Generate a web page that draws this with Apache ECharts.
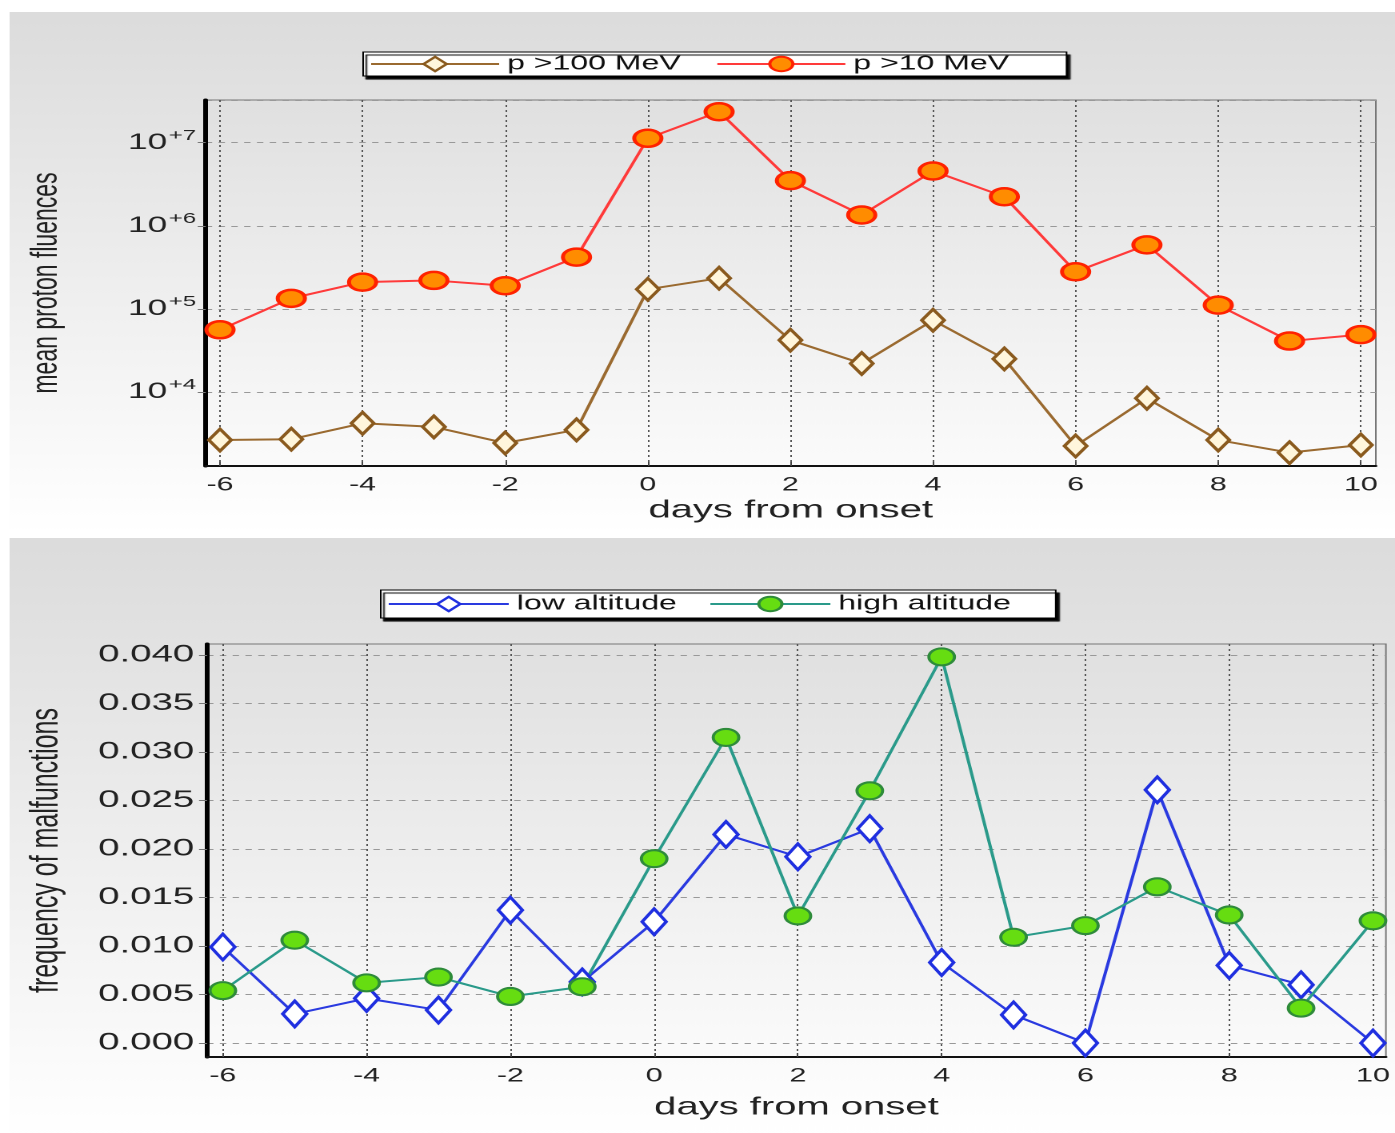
<!DOCTYPE html>
<html><head><meta charset="utf-8">
<script src="https://cdn.jsdelivr.net/npm/echarts@6/dist/echarts.min.js"></script>
<style>
html,body{margin:0;padding:0;background:#fff;overflow:hidden;}
#wrap{width:1395px;height:1133px;overflow:hidden;position:relative;}
#c{width:872px;height:1133px;transform:scaleX(1.59977);transform-origin:0 0;}
</style></head><body><div id="wrap"><div id="c"></div></div>
<script>
// ---- data ----
const days = [-6,-5,-4,-3,-2,-1,0,1,2,3,4,5,6,7,8,9,10];
const p100 = [2640,2700,4200,3800,2430,3500,172000,234000,42000,22000,73000,25000,2240,8400,2640,1860,2300];
const p10 = [56000,134000,210000,220000,190000,420000,11300000,23600000,3500000,1350000,4560000,2240000,280000,590000,111000,41000,49000];
const lowAlt = [0.0099,0.0030,0.0046,0.0034,0.0137,0.0063,0.0125,0.0215,0.0192,0.0221,0.0083,0.0029,0.0000,0.0261,0.0080,0.0060,0.0000];
const highAlt = [0.0054,0.0106,0.0062,0.0068,0.0048,0.0058,0.0190,0.0315,0.0131,0.0260,0.0398,0.0109,0.0121,0.0161,0.0132,0.0036,0.0126];
const xTicks = [-6,-4,-2,0,2,4,6,8,10];
const freqTicks = [0,0.005,0.010,0.015,0.020,0.025,0.030,0.035,0.040];
const topNames = ['p >100 MeV','p >10 MeV'];
const botNames = ['low altitude','high altitude'];

const FONT = 'Liberation Sans';
const pairs = (ys) => days.map((d,i)=>[d, ys[i]]);
const chart = echarts.init(document.getElementById('c'), null, {devicePixelRatio: 2});

const panelGrad = () => new echarts.graphic.LinearGradient(0,0,0,1,[{offset:0,color:'#dcdcdc'},{offset:1,color:'#ffffff'}]);
const plotGrad = () => new echarts.graphic.LinearGradient(0,0,0,1,[{offset:0,color:'#e0e0e0'},{offset:1,color:'#fbfbfb'}]);

function xAxisCfg(gi, min, max, nameGap){
  return {
    type:'value', gridIndex:gi, min:min, max:max,
    name:'days from onset', nameLocation:'middle', nameGap:nameGap,
    nameTextStyle:{fontFamily:FONT, fontSize:25, color:'#222'},
    axisLine:{show:true, onZero:false, lineStyle:{color:'#111', width:2}},
    axisTick:{show:true, inside:true, length:4, customValues:xTicks, lineStyle:{color:'#444'}},
    axisLabel:{customValues:xTicks, fontFamily:FONT, fontSize:19, color:'#222', margin:10},
    splitLine:{show:true, lineStyle:{type:[2,3], color:'#555', width:1}}
  };
}

const option = {
  animation:false,
  backgroundColor:'#ffffff',
  graphic:[
    {type:'rect', shape:{x:6, y:12, width:866, height:518}, style:{fill:panelGrad()}, z:-10, silent:true},
    {type:'rect', shape:{x:6, y:538, width:866, height:595}, style:{fill:panelGrad()}, z:-10, silent:true}
  ],
  grid:[
    {left:128.6, right:12, top:100, height:366, show:true, backgroundColor:plotGrad(), borderColor:'#777', borderWidth:1},
    {left:129.4, right:5.7, top:644, height:413, show:true, backgroundColor:plotGrad(), borderColor:'#777', borderWidth:1}
  ],
  legend:[
    {data:topNames, left:227, top:52, orient:'horizontal', itemWidth:80, itemHeight:18, itemGap:22,
     padding:[2,36,2,4], backgroundColor:'#fff', borderColor:'#000', borderWidth:1,
     shadowColor:'#000', shadowBlur:1, shadowOffsetX:2, shadowOffsetY:3,
     textStyle:{fontFamily:FONT, fontSize:20, color:'#111'}},
    {data:botNames, left:238, top:590, orient:'horizontal', itemWidth:75, itemHeight:18, itemGap:20,
     padding:[4,28,4,4], backgroundColor:'#fff', borderColor:'#000', borderWidth:1,
     shadowColor:'#000', shadowBlur:1, shadowOffsetX:2, shadowOffsetY:3,
     textStyle:{fontFamily:FONT, fontSize:20, color:'#111'}}
  ],
  xAxis:[ xAxisCfg(0, -6.2, 10.21, 32), xAxisCfg(1, -6.22, 10.18, 38) ],
  yAxis:[
    {type:'log', gridIndex:0, min:Math.pow(10,3.109), max:Math.pow(10,7.514), logBase:10,
     name:'mean proton fluences', nameLocation:'middle', nameGap:88,
     nameTextStyle:{fontFamily:FONT, fontSize:23, color:'#222'},
     axisLine:{show:true, onZero:false, lineStyle:{color:'#000', width:3}},
     axisTick:{show:true, length:5, lineStyle:{color:'#777'}},
     axisLabel:{showMinLabel:false, showMaxLabel:false, margin:6,
       formatter:(v)=>'{b|10}{s|+'+Math.round(Math.log10(v))+'}',
       rich:{b:{fontFamily:FONT, fontSize:22, color:'#222'}, s:{fontFamily:FONT, fontSize:15, color:'#222', padding:[0,0,14,1]}}},
     splitLine:{show:true, lineStyle:{type:[4,4], color:'#999', width:1}}
    },
    {type:'value', gridIndex:1, min:-0.00144, max:0.04113,
     name:'frequency of malfunctions', nameLocation:'middle', nameGap:88,
     nameTextStyle:{fontFamily:FONT, fontSize:25, color:'#222'},
     axisLine:{show:true, onZero:false, lineStyle:{color:'#000', width:3}},
     axisTick:{show:true, length:5, customValues:freqTicks, lineStyle:{color:'#777'}},
     axisLabel:{customValues:freqTicks, margin:8, fontFamily:FONT, fontSize:24, color:'#222', formatter:(v)=>v.toFixed(3)},
     splitLine:{show:true, lineStyle:{type:[4,4], color:'#999', width:1}}
    }
  ],
  series:[
    {name:'p >100 MeV', type:'line', xAxisIndex:0, yAxisIndex:0, data:pairs(p100),
     symbol:'diamond', symbolSize:[14,22],
     itemStyle:{color:'#fff6dc', borderColor:'#8a5a1e', borderWidth:2.5},
     lineStyle:{color:'#9a6a30', width:2}},
    {name:'p >10 MeV', type:'line', xAxisIndex:0, yAxisIndex:0, data:pairs(p10),
     symbol:'circle', symbolSize:[17,17],
     itemStyle:{color:'#ff8c00', borderColor:'#ff2200', borderWidth:2.5},
     lineStyle:{color:'#ff3a3a', width:2}},
    {name:'low altitude', type:'line', xAxisIndex:1, yAxisIndex:1, data:pairs(lowAlt),
     symbol:'diamond', symbolSize:[15,26],
     itemStyle:{color:'#ffffff', borderColor:'#1f2fe0', borderWidth:2.5},
     lineStyle:{color:'#2a3ae0', width:2}},
    {name:'high altitude', type:'line', xAxisIndex:1, yAxisIndex:1, data:pairs(highAlt),
     symbol:'circle', symbolSize:[16,17],
     itemStyle:{color:'#66dd11', borderColor:'#2e8b3a', borderWidth:2},
     lineStyle:{color:'#2a9a8a', width:2}}
  ]
};
chart.setOption(option);
</script></body></html>
